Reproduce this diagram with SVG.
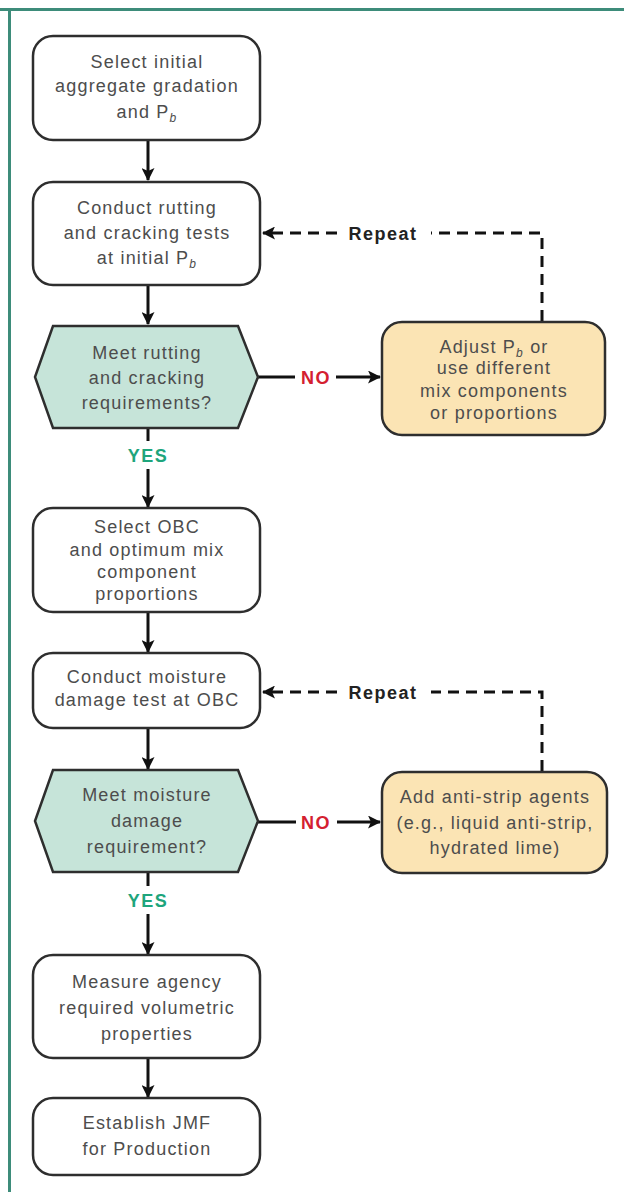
<svg xmlns="http://www.w3.org/2000/svg" width="624" height="1192" viewBox="0 0 624 1192">
<style>
.box{fill:#fff;stroke:#2e2e2e;stroke-width:2.5}
.hex{fill:#c6e4d9;stroke:#2e2e2e;stroke-width:2.5}
.adj{fill:#fbe4b4;stroke:#2e2e2e;stroke-width:2.5}
.t{font-family:"Liberation Sans",Arial,sans-serif;font-size:18px;letter-spacing:1.2px;fill:#4d4d4d;text-anchor:middle}
.sub{font-size:12px;font-style:italic}
.lbl{font-family:"Liberation Sans",Arial,sans-serif;font-size:18px;letter-spacing:1.5px;font-weight:bold;text-anchor:middle}
.ln{stroke:#111;stroke-width:3;fill:none}
.dash{stroke:#111;stroke-width:3;fill:none;stroke-dasharray:11 7}
</style>
<defs>
<marker id="ah" viewBox="0 0 13 13" refX="12" refY="6.5" markerWidth="13" markerHeight="13" markerUnits="userSpaceOnUse" orient="auto">
<path d="M0,0 L13,6.5 L0,13 L3,6.5 Z" fill="#111"/>
</marker>
</defs>
<g id="frame">
<line x1="0" y1="9.5" x2="624" y2="9.5" stroke="#3d8c7a" stroke-width="3"/>
<line x1="9.5" y1="8" x2="9.5" y2="1192" stroke="#3d8c7a" stroke-width="3"/>
</g>
<g id="connectors">
<line class="ln" x1="148" y1="141" x2="148" y2="180" marker-end="url(#ah)"/>
<line class="ln" x1="148" y1="286" x2="148" y2="324" marker-end="url(#ah)"/>
<line class="ln" x1="148" y1="429" x2="148" y2="441"/>
<line class="ln" x1="148" y1="469" x2="148" y2="507" marker-end="url(#ah)"/>
<line class="ln" x1="148" y1="613" x2="148" y2="652" marker-end="url(#ah)"/>
<line class="ln" x1="148" y1="729" x2="148" y2="769" marker-end="url(#ah)"/>
<line class="ln" x1="148" y1="873" x2="148" y2="886"/>
<line class="ln" x1="148" y1="914" x2="148" y2="954" marker-end="url(#ah)"/>
<line class="ln" x1="148" y1="1059" x2="148" y2="1097" marker-end="url(#ah)"/>
<line class="ln" x1="258" y1="377" x2="295" y2="377"/>
<line class="ln" x1="336" y1="377" x2="380" y2="377" marker-end="url(#ah)"/>
<line class="ln" x1="258" y1="822" x2="296" y2="822"/>
<line class="ln" x1="337" y1="822" x2="380" y2="822" marker-end="url(#ah)"/>
<path class="dash" d="M542,321 L542,233 L431,233"/>
<path class="dash" d="M337,233 L263,233" marker-end="url(#ah)"/>
<path class="dash" d="M542,771 L542,692 L431,692"/>
<path class="dash" d="M337,692 L263,692" marker-end="url(#ah)"/>
<text class="lbl" x="383" y="240" fill="#222">Repeat</text>
<text class="lbl" x="383" y="699" fill="#222">Repeat</text>
<text class="lbl" x="316" y="384" fill="#d42030">NO</text>
<text class="lbl" x="316" y="829" fill="#d42030">NO</text>
<text class="lbl" x="148" y="462" fill="#1ea57c">YES</text>
<text class="lbl" x="148" y="907" fill="#1ea57c">YES</text>
</g>
<g id="n1">
<rect class="box" x="33" y="36" width="227" height="104" rx="20"/>
<text class="t" x="147" y="68">Select initial</text>
<text class="t" x="147" y="92">aggregate gradation</text>
<text class="t" x="147" y="118">and P<tspan class="sub" dy="4">b</tspan></text>
</g>
<g id="n2">
<rect class="box" x="33" y="182" width="227" height="103" rx="20"/>
<text class="t" x="147" y="214">Conduct rutting</text>
<text class="t" x="147" y="239">and cracking tests</text>
<text class="t" x="147" y="264">at initial P<tspan class="sub" dy="4">b</tspan></text>
</g>
<g id="n3">
<polygon class="hex" points="53,326 238,326 258,377 238,428 53,428 35,377"/>
<text class="t" x="147" y="359">Meet rutting</text>
<text class="t" x="147" y="384">and cracking</text>
<text class="t" x="147" y="409">requirements?</text>
</g>
<g id="n4">
<rect class="adj" x="382" y="322" width="223" height="113" rx="20"/>
<text class="t" x="494" y="353">Adjust P<tspan class="sub" dy="4">b</tspan><tspan dy="-4"> or</tspan></text>
<text class="t" x="494" y="374">use different</text>
<text class="t" x="494" y="397">mix components</text>
<text class="t" x="494" y="419">or proportions</text>
</g>
<g id="n5">
<rect class="box" x="33" y="508" width="227" height="104" rx="20"/>
<text class="t" x="147" y="533">Select OBC</text>
<text class="t" x="147" y="556">and optimum mix</text>
<text class="t" x="147" y="578">component</text>
<text class="t" x="147" y="600">proportions</text>
</g>
<g id="n6">
<rect class="box" x="33" y="653" width="227" height="75" rx="20"/>
<text class="t" x="147" y="683">Conduct moisture</text>
<text class="t" x="147" y="706">damage test at OBC</text>
</g>
<g id="n7">
<polygon class="hex" points="53,770 238,770 258,821 238,872 53,872 35,821"/>
<text class="t" x="147" y="801">Meet moisture</text>
<text class="t" x="147" y="827">damage</text>
<text class="t" x="147" y="853">requirement?</text>
</g>
<g id="n8">
<rect class="adj" x="382" y="772" width="225" height="101" rx="20"/>
<text class="t" x="495" y="803">Add anti-strip agents</text>
<text class="t" x="495" y="829">(e.g., liquid anti-strip,</text>
<text class="t" x="495" y="854">hydrated lime)</text>
</g>
<g id="n9">
<rect class="box" x="33" y="955" width="227" height="103" rx="20"/>
<text class="t" x="147" y="988">Measure agency</text>
<text class="t" x="147" y="1014">required volumetric</text>
<text class="t" x="147" y="1040">properties</text>
</g>
<g id="n10">
<rect class="box" x="33" y="1098" width="227" height="77" rx="20"/>
<text class="t" x="147" y="1129">Establish JMF</text>
<text class="t" x="147" y="1155">for Production</text>
</g>
</svg>
